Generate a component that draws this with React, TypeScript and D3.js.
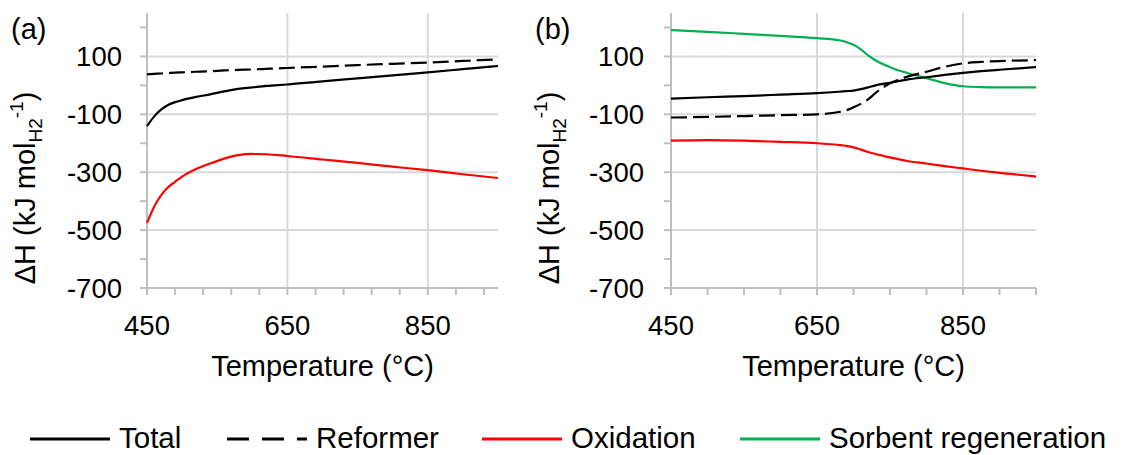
import React from "react";
import * as d3 from "d3";

// Temperature grids (°C)
const tempA = [450, 460, 470, 480, 490, 500, 520, 540, 560, 580, 600, 620, 650, 700, 750, 800, 850, 900, 950];
const tempB = [450, 500, 550, 600, 650, 680, 690, 700, 710, 720, 730, 740, 750, 760, 775, 800, 825, 850, 875, 900, 950];

// Panel (a) enthalpies, kJ per mol H2
const totalA = [-141, -108, -84, -68, -58, -51, -40, -31, -21, -12, -7, -2, 3, 14, 24, 34.5, 45, 56, 67];
const reformerA = [38, 39.5, 41, 42.5, 44, 45, 47, 49, 51.5, 53.5, 55, 57, 60, 65, 70, 74.5, 79, 84.5, 90];
const oxidationA = [-475, -420, -380, -352, -333, -315, -289, -270, -253, -241, -237, -238, -244, -256, -268, -281, -293, -307, -320];

// Panel (b) enthalpies, kJ per mol H2
const totalB = [-46, -41, -37, -32, -27, -22, -20, -18, -13, -7, 0, 5, 9, 14, 21, 28, 36, 43, 49, 54, 63];
const reformerB = [-111, -109, -106, -103, -100, -92, -86, -76, -64, -48, -27, -8, 7, 18, 31, 47, 64, 76, 81, 84, 87];
const oxidationB = [-191, -189, -191, -195, -200, -206, -209, -214, -222, -230, -237, -243, -249, -254, -262, -270, -279, -287, -295, -302, -315];
const sorbentB = [191, 185, 178, 171, 163, 156, 150, 140, 124, 104, 87, 74, 63, 53, 42, 25, 8, -3, -6, -7, -7];

const yTicks = [100, -100, -300, -500, -700];
const xTicks = [450, 650, 850];
const panelLabels = ["(a)", "(b)"];

const seriesNames = ["Total", "Reformer", "Oxidation", "Sorbent regeneration"];
const seriesColors = ["#000000", "#000000", "#ff0000", "#00b050"];

const FONT = "Arial, 'Liberation Sans', sans-serif";

type Series = { name: string; values: number[]; color: string; dashed: boolean };

function Panel({ ox, x0, x1, labelGap, minorStep, temps, series, label }: {
  ox: number; x0: number; x1: number; labelGap: number; minorStep: number; temps: number[]; series: Series[]; label: string;
}) {
  const x = d3.scaleLinear().domain([450, 950]).range([x0, x1]);
  const y = d3.scaleLinear().domain([-700, 250]).range([288, 13]);
  const minorX = d3.range(450, 951, minorStep);
  const minorY = d3.range(-700, 201, 100);
  const grid = "#d9d9d9";
  const axis = "#bfbfbf";
  const line = (vals: number[]) =>
    d3.line<number>()
      .x((_, i) => x(temps[i]))
      .y((v) => y(v))
      .curve(d3.curveMonotoneX)(vals) || "";
  const labelRight = x0 - labelGap;
  const titleX = ox + 35;
  const titleY = 188;
  return (
    <g>
      {/* gridlines */}
      {yTicks.filter((v) => v !== -700).map((v) => (
        <line key={"gy" + v} x1={x0} x2={x1} y1={y(v)} y2={y(v)} stroke={grid} strokeWidth={2} />
      ))}
      {xTicks.filter((v) => v !== 450).map((v) => (
        <line key={"gx" + v} x1={x(v)} x2={x(v)} y1={y(250)} y2={y(-700)} stroke={grid} strokeWidth={2} />
      ))}
      {/* axes */}
      <line x1={x0} x2={x0} y1={y(250)} y2={y(-700)} stroke={axis} strokeWidth={2} />
      <line x1={x0} x2={x1} y1={y(-700)} y2={y(-700)} stroke={axis} strokeWidth={2} />
      {minorY.map((v) => (
        <line key={"ty" + v} x1={x0 - 7} x2={x0} y1={y(v)} y2={y(v)} stroke={axis} strokeWidth={2} />
      ))}
      {minorX.map((v) => (
        <line key={"tx" + v} x1={x(v)} x2={x(v)} y1={y(-700)} y2={y(-700) + 7} stroke={axis} strokeWidth={2} />
      ))}
      {/* tick labels */}
      {yTicks.map((v) => (
        <text key={"ly" + v} x={labelRight} y={y(v)} dy="0.36em" textAnchor="end" fontSize={27.5} fontFamily={FONT} fill="#000">
          {v}
        </text>
      ))}
      {xTicks.map((v) => (
        <text key={"lx" + v} x={x(v)} y={335} textAnchor="middle" fontSize={27.5} fontFamily={FONT} fill="#000">
          {v}
        </text>
      ))}
      <text x={(x0 + x1) / 2} y={376} textAnchor="middle" fontSize={29} fontFamily={FONT} fill="#000">
        Temperature (°C)
      </text>
      <text transform={`translate(${titleX},${titleY}) rotate(-90)`} textAnchor="middle" fontSize={29} fontFamily={FONT} fill="#000">
        <tspan>ΔH (kJ mol</tspan>
        <tspan fontSize={19} dy={7}>H2</tspan>
        <tspan fontSize={19} dy={-19}>-1</tspan>
        <tspan dy={12}>)</tspan>
      </text>
      <text x={ox + 11} y={39} fontSize={29} fontFamily={FONT} fill="#000">{label}</text>
      {/* data lines */}
      {series.map((s) => (
        <path key={s.name} d={line(s.values)} fill="none" stroke={s.color} strokeWidth={2.2}
          strokeDasharray={s.dashed ? "16 6" : undefined} />
      ))}
    </g>
  );
}

export default function App() {
  const seriesA: Series[] = [
    { name: seriesNames[0], values: totalA, color: seriesColors[0], dashed: false },
    { name: seriesNames[1], values: reformerA, color: seriesColors[1], dashed: true },
    { name: seriesNames[2], values: oxidationA, color: seriesColors[2], dashed: false },
  ];
  const seriesB: Series[] = [
    { name: seriesNames[3], values: sorbentB, color: seriesColors[3], dashed: false },
    { name: seriesNames[0], values: totalB, color: seriesColors[0], dashed: false },
    { name: seriesNames[1], values: reformerB, color: seriesColors[1], dashed: true },
    { name: seriesNames[2], values: oxidationB, color: seriesColors[2], dashed: false },
  ];
  const legendX = [30, 227, 482, 740];
  return (
    <svg width={1130} height={455} style={{ position: "absolute", left: 0, top: 0, background: "#fff" }}>
      <rect width={1130} height={455} fill="#fff" />
      <Panel ox={0} x0={147} x1={498} labelGap={25} minorStep={40} temps={tempA} series={seriesA} label={panelLabels[0]} />
      <Panel ox={524} x0={671} x1={1036} labelGap={27} minorStep={50} temps={tempB} series={seriesB} label={panelLabels[1]} />
      {seriesNames.map((n, i) => (
        <g key={n}>
          <line x1={legendX[i]} x2={legendX[i] + 80} y1={439} y2={439} stroke={seriesColors[i]} strokeWidth={3}
            strokeDasharray={i === 1 ? "22 13" : undefined} />
          <text x={legendX[i] + 89} y={448} fontSize={29.5} fontFamily={FONT} fill="#000">{n}</text>
        </g>
      ))}
    </svg>
  );
}
